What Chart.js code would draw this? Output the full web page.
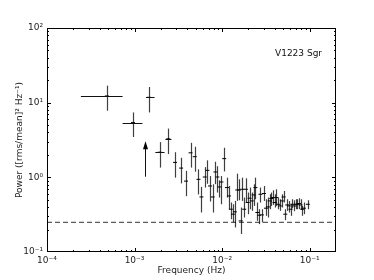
<!DOCTYPE html>
<html>
<head>
<meta charset="utf-8">
<script src="https://cdn.jsdelivr.net/npm/chart.js@4"></script>
<style>
  html, body { margin: 0; padding: 0; background: #fff; }
  #wrap { width: 374px; height: 280px; }
</style>
</head>
<body>
<div id="wrap"><canvas id="psd"></canvas></div>
<script>
// power spectrum of V1223 Sgr
const freq = [4.83e-4, 9.6e-4, 1.46e-3, 1.94e-3, 2.43e-3, 2.90e-3, 3.40e-3, 3.87e-3, 4.36e-3, 4.87e-3,
  5.37e-3, 5.81e-3, 6.34e-3, 6.79e-3, 7.28e-3, 7.82e-3, 8.39e-3, 8.84e-3, 9.31e-3, 9.82e-3,
  1.057e-2, 1.137e-2, 1.20e-2, 1.26e-2, 1.33e-2, 1.40e-2, 1.49e-2, 1.56e-2, 1.63e-2, 1.70e-2,
  1.79e-2, 1.87e-2, 1.96e-2, 2.06e-2, 2.18e-2, 2.29e-2, 2.40e-2, 2.53e-2, 2.64e-2, 2.74e-2,
  2.85e-2, 3.01e-2, 3.17e-2, 3.34e-2, 3.49e-2, 3.65e-2, 3.80e-2, 3.98e-2, 4.16e-2, 4.38e-2,
  4.57e-2, 4.82e-2, 5.04e-2, 5.27e-2, 5.55e-2, 5.79e-2, 6.05e-2, 6.33e-2, 6.68e-2, 6.96e-2,
  7.22e-2, 7.54e-2, 7.88e-2, 8.24e-2, 8.59e-2, 9.53e-2];
const power = [12.3, 5.41, 11.8, 2.17, 3.28, 1.585, 1.33, 0.89, 2.13, 1.89,
  0.94, 0.546, 1.01, 1.24, 0.766, 0.546, 1.18, 1.01, 0.743, 0.866,
  1.78, 0.729, 0.563, 0.374, 0.321, 0.345, 0.677, 0.677, 0.261, 0.692,
  0.374, 0.692, 0.46, 0.525, 0.483, 0.581, 0.729, 0.338, 0.311, 0.593,
  0.314, 0.607, 0.386, 0.402, 0.483, 0.52, 0.536, 0.46, 0.536, 0.436,
  0.414, 0.483, 0.546, 0.321, 0.427, 0.414, 0.374, 0.436, 0.414, 0.436,
  0.436, 0.446, 0.427, 0.374, 0.386, 0.436];
const powHi = [16.9, 7.4, 16.2, 2.96, 4.50, 2.17, 1.83, 1.22, 2.90, 2.57,
  1.28, 0.743, 1.37, 1.69, 1.04, 0.807, 1.62, 1.41, 0.912, 1.04,
  2.49, 0.99, 0.766, 0.46, 0.436, 0.483, 1.12, 0.94, 0.394, 0.99,
  0.536, 0.97, 0.625, 0.729, 0.625, 0.807, 0.99, 0.46, 0.374, 0.729,
  0.374, 0.766, 0.509, 0.536, 0.593, 0.625, 0.671, 0.593, 0.692, 0.536,
  0.509, 0.593, 0.657, 0.374, 0.509, 0.483, 0.436, 0.509, 0.493, 0.509,
  0.509, 0.525, 0.509, 0.414, 0.46, 0.493];
const powLo = [7.8, 3.47, 7.4, 1.35, 2.05, 0.99, 0.83, 0.56, 1.35, 1.19,
  0.59, 0.338, 0.73, 0.82, 0.474, 0.338, 0.81, 0.625, 0.536, 0.436,
  1.20, 0.536, 0.374, 0.275, 0.249, 0.213, 0.483, 0.493, 0.174, 0.483,
  0.29, 0.46, 0.321, 0.374, 0.356, 0.414, 0.509, 0.262, 0.236, 0.46,
  0.249, 0.483, 0.305, 0.29, 0.374, 0.414, 0.427, 0.394, 0.414, 0.374,
  0.356, 0.394, 0.46, 0.267, 0.356, 0.338, 0.305, 0.386, 0.352, 0.374,
  0.374, 0.374, 0.367, 0.305, 0.321, 0.374];
// frequency bin edges of the first (wide) bins
const binLo = [2.44e-4, 7.3e-4, 1.35e-3, 1.73e-3, 2.25e-3];
const binHi = [7.3e-4, 1.23e-3, 1.69e-3, 2.20e-3, 2.64e-3];
// lower-limit arrow
const arrowFreq = [1.33e-3];
const arrowFrom = [1.02];
const arrowTo = [3.05];
const noiseLevel = 0.25;
const xRange = [1e-4, 0.2];
const yRange = [0.1, 100];
const xTicks = [1e-4, 1e-3, 1e-2, 1e-1];
const xTickLabels = ['10\u207B\u2074', '10\u207B\u00B3', '10\u207B\u00B2', '10\u207B\u00B9'];
const yTicks = [0.1, 1, 10, 100];
const yTickLabels = ['10\u207B\u00B9', '10\u2070', '10\u00B9', '10\u00B2'];
const minorSteps = [2, 3, 4, 5, 6, 7, 8, 9];

const font = { family: 'DejaVu Sans', size: 9 };

const errorBars = {
  id: 'errorBars',
  afterDatasetsDraw(chart) {
    const { ctx, scales: { x, y } } = chart;
    ctx.save();
    ctx.strokeStyle = 'rgba(0,0,0,0.75)';
    ctx.lineWidth = 1.2;
    freq.forEach((f, i) => {
      const px = Math.round(x.getPixelForValue(f)) + 0.5;
      ctx.beginPath();
      ctx.moveTo(px, y.getPixelForValue(powLo[i]));
      ctx.lineTo(px, y.getPixelForValue(powHi[i]));
      ctx.stroke();
    });
    ctx.strokeStyle = '#111';
    ctx.lineWidth = 1;
    binLo.forEach((lo, i) => {
      const py = Math.round(y.getPixelForValue(power[i])) + 0.5;
      ctx.beginPath();
      ctx.moveTo(x.getPixelForValue(lo), py);
      ctx.lineTo(x.getPixelForValue(binHi[i]), py);
      ctx.stroke();
    });
    // arrows
    ctx.fillStyle = '#000';
    arrowFreq.forEach((f, i) => {
      const px = Math.round(x.getPixelForValue(f)) + 0.5;
      const y0 = y.getPixelForValue(arrowFrom[i]);
      const y1 = y.getPixelForValue(arrowTo[i]);
      ctx.beginPath();
      ctx.moveTo(px, y0);
      ctx.lineTo(px, y1 + 7);
      ctx.stroke();
      ctx.beginPath();
      ctx.moveTo(px, y1);
      ctx.lineTo(px - 2.5, y1 + 8);
      ctx.lineTo(px + 2.5, y1 + 8);
      ctx.closePath();
      ctx.fill();
    });
    ctx.restore();
  }
};

// matplotlib-like frame with inward ticks on every side
const frame = {
  id: 'frame',
  afterDraw(chart) {
    const { ctx, chartArea: a, scales: { x, y } } = chart;
    ctx.save();
    ctx.strokeStyle = '#000';
    ctx.lineWidth = 1;
    ctx.strokeRect(Math.round(a.left) + 0.5, Math.round(a.top) + 0.5,
      Math.round(a.right - a.left) - 1, Math.round(a.bottom - a.top) - 1);
    const vtick = (v, len) => {
      const px = Math.round(x.getPixelForValue(v)) + 0.5;
      if (px < a.left || px > a.right) return;
      ctx.beginPath();
      ctx.moveTo(px, a.bottom); ctx.lineTo(px, a.bottom - len);
      ctx.moveTo(px, a.top); ctx.lineTo(px, a.top + len);
      ctx.stroke();
    };
    const htick = (v, len) => {
      const py = Math.round(y.getPixelForValue(v)) + 0.5;
      if (py < a.top || py > a.bottom) return;
      ctx.beginPath();
      ctx.moveTo(a.left, py); ctx.lineTo(a.left + len, py);
      ctx.moveTo(a.right, py); ctx.lineTo(a.right - len, py);
      ctx.stroke();
    };
    xTicks.forEach(t => {
      vtick(t, 4);
      minorSteps.forEach(m => vtick(t * m, 2));
    });
    yTicks.forEach(t => {
      htick(t, 4);
      minorSteps.forEach(m => htick(t * m, 2));
    });
    // source name
    ctx.fillStyle = '#111';
    ctx.font = '9px "DejaVu Sans"';
    ctx.textBaseline = 'middle';
    ctx.fillText('V1223 Sgr', a.right - 61, a.top + 26);
    ctx.restore();
  }
};

new Chart(document.getElementById('psd'), {
  type: 'scatter',
  data: {
    datasets: [
      {
        data: freq.map((f, i) => ({ x: f, y: power[i] })),
        pointStyle: 'line',
        pointRadius: 2,
        borderColor: '#000',
        borderWidth: 1
      },
      {
        data: xRange.map(f => ({ x: f, y: noiseLevel })),
        showLine: true,
        borderColor: '#333',
        borderWidth: 1,
        borderDash: [5, 3],
        pointRadius: 0
      }
    ]
  },
  options: {
    responsive: true,
    maintainAspectRatio: false,
    animation: false,
    devicePixelRatio: 1,
    layout: { padding: { left: 14, top: 28, right: 38, bottom: 0 } },
    plugins: { legend: { display: false }, tooltip: { enabled: false } },
    scales: {
      x: {
        type: 'logarithmic',
        min: xRange[0],
        max: xRange[1],
        grid: { display: false, drawTicks: false },
        border: { display: false },
        afterBuildTicks: s => { s.ticks = xTicks.map(v => ({ value: v })); },
        afterFit: s => { s.height = 28; },
        ticks: {
          font: font, color: '#222', padding: 3, maxRotation: 0, autoSkip: false,
          callback: (v, i) => xTickLabels[i]
        },
        title: { display: true, text: 'Frequency (Hz)', font: font, color: '#222', padding: { top: 0, bottom: 4 } }
      },
      y: {
        type: 'logarithmic',
        min: yRange[0],
        max: yRange[1],
        grid: { display: false, drawTicks: false },
        border: { display: false },
        afterBuildTicks: s => { s.ticks = yTicks.map(v => ({ value: v })); },
        afterFit: s => { s.width = 33; },
        ticks: {
          font: font, color: '#222', padding: 4, autoSkip: false,
          callback: (v, i) => yTickLabels[i]
        },
        title: { display: true, text: 'Power ([rms/mean]\u00B2 Hz\u207B\u00B9)', font: font, color: '#222', padding: 0 }
      }
    }
  },
  plugins: [errorBars, frame]
});
</script>
</body>
</html>
